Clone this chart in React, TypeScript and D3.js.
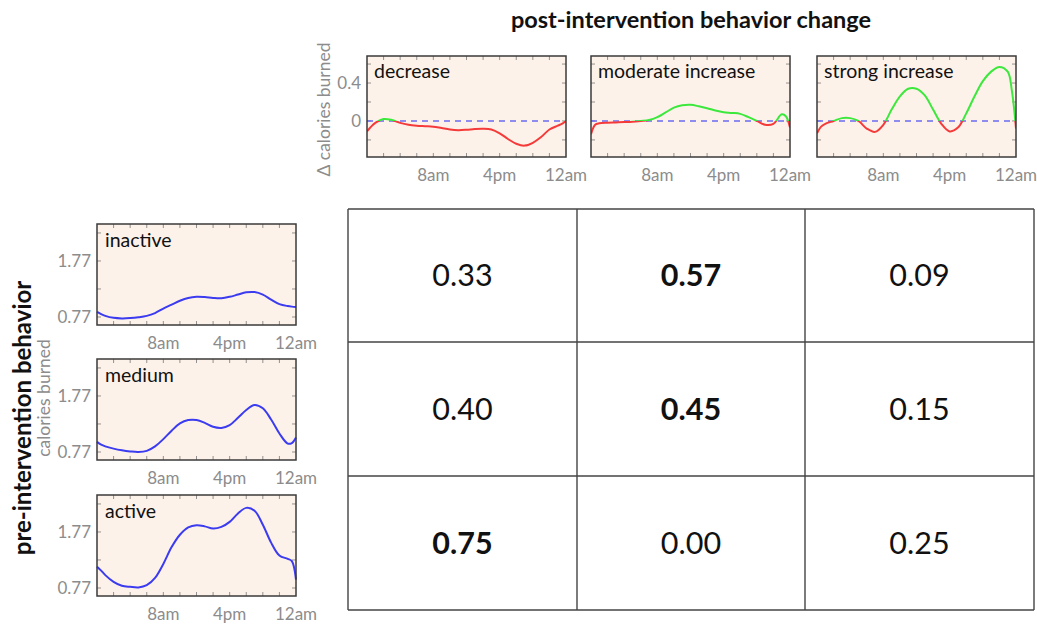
import React from "react";
import * as d3 from "d3";

// ---------- data ----------
const HOURS = [0, 0.5, 1, 2, 3, 4, 5, 6, 7, 8, 9, 10, 11, 12, 13, 14, 15, 16, 17, 18, 19, 20, 21, 22, 23, 23.5, 24];

const changeLabels = ["decrease", "moderate increase", "strong increase"];
const decreaseValues = [-0.11, -0.06, -0.02, 0.02, 0.01, -0.02, -0.04, -0.05, -0.055, -0.06, -0.075, -0.09, -0.097, -0.093, -0.085, -0.082, -0.09, -0.13, -0.19, -0.24, -0.26, -0.23, -0.17, -0.09, -0.05, -0.03, 0.0];
const moderateValues = [-0.14, -0.04, -0.025, -0.018, -0.015, -0.012, -0.008, 0.0, 0.01, 0.04, 0.09, 0.14, 0.165, 0.17, 0.155, 0.135, 0.11, 0.092, 0.085, 0.075, 0.04, 0.0, -0.04, -0.03, 0.07, 0.05, -0.07];
const strongValues = [-0.13, -0.06, -0.03, 0.0, 0.03, 0.03, 0.0, -0.08, -0.115, -0.04, 0.12, 0.26, 0.34, 0.34, 0.27, 0.12, -0.03, -0.11, -0.07, 0.08, 0.26, 0.42, 0.52, 0.57, 0.52, 0.32, -0.08];
const changeSeries = [decreaseValues, moderateValues, strongValues];

const behaviorLabels = ["inactive", "medium", "active"];
const inactiveValues = [0.86, 0.82, 0.79, 0.755, 0.745, 0.75, 0.765, 0.79, 0.84, 0.92, 0.99, 1.06, 1.11, 1.13, 1.125, 1.11, 1.105, 1.13, 1.17, 1.21, 1.215, 1.17, 1.08, 1.0, 0.965, 0.955, 0.95];
const mediumValues = [0.95, 0.9, 0.87, 0.83, 0.8, 0.78, 0.77, 0.79, 0.87, 1.0, 1.15, 1.28, 1.34, 1.34, 1.29, 1.22, 1.2, 1.25, 1.38, 1.52, 1.61, 1.55, 1.35, 1.1, 0.92, 0.93, 1.03];
const activeValues = [1.15, 1.08, 1.0, 0.88, 0.81, 0.79, 0.78, 0.82, 0.95, 1.2, 1.5, 1.72, 1.85, 1.89, 1.87, 1.83, 1.86, 1.95, 2.1, 2.2, 2.15, 1.9, 1.58, 1.35, 1.29, 1.25, 0.92];
const behaviorSeries = [inactiveValues, mediumValues, activeValues];

const xTickHours = [8, 16, 24];
const xTickLabels = ["8am", "4pm", "12am"];
const xMinorHours = [2, 4, 6, 8, 10, 12, 14, 16, 18, 20, 22];

const deltaTicks = [0, 0.4];
const deltaMinor = [-0.2, 0, 0.2, 0.4, 0.6];
const calTicks = [0.77, 1.77];
const calMinor = [0.77, 1.27, 1.77, 2.27];

// transition matrix: rows = pre behavior, cols = change
const tableValues = [
  [0.33, 0.57, 0.09],
  [0.40, 0.45, 0.15],
  [0.75, 0.0, 0.25],
];
const boldCells = [
  [false, true, false],
  [false, true, false],
  [true, false, false],
];

// ---------- layout ----------
const FONT = "Lato, 'Open Sans', sans-serif";
const GRAY = "#8c8c8c";
const TICK_FS = 17;
const PANEL_W = 199;
const PANEL_H = 101;
const BG = "#fdf2ea";
const BORDER = "#3a3a3a";

const topLefts = [367, 591, 817];
const topTop = 56;
const leftLeft = 97;
const leftTops = [224, 359, 495];

const tableX = [348, 577, 805, 1034];
const tableY = [209, 342, 476, 610];

const xScale = d3.scaleLinear().domain([0, 24]).range([0, PANEL_W]);
const deltaY = d3.scaleLinear().domain([-0.38, 0.685]).range([PANEL_H, 0]);
const calY = d3.scaleLinear().domain([0.627, 2.43]).range([PANEL_H, 0]);

function Frame({ yScale, yMinor }: { yScale: any; yMinor: number[] }) {
  const t = 4;
  return (
    <g>
      <rect x={0} y={0} width={PANEL_W} height={PANEL_H} fill={BG} />
      {xMinorHours.map((h) => (
        <g key={"x" + h} stroke="#777" strokeWidth={0.8}>
          <line x1={xScale(h)} x2={xScale(h)} y1={PANEL_H} y2={PANEL_H - t} />
          <line x1={xScale(h)} x2={xScale(h)} y1={0} y2={t} />
        </g>
      ))}
      {yMinor.map((v) => (
        <g key={"y" + v} stroke="#777" strokeWidth={0.8}>
          <line x1={0} x2={t} y1={yScale(v)} y2={yScale(v)} />
          <line x1={PANEL_W} x2={PANEL_W - t} y1={yScale(v)} y2={yScale(v)} />
        </g>
      ))}
    </g>
  );
}

function XLabels() {
  return (
    <g>
      {xTickHours.map((h, i) => (
        <text key={h} x={xScale(h)} y={PANEL_H + 24} textAnchor="middle" fontSize={TICK_FS} fill={GRAY} fontFamily={FONT}>
          {xTickLabels[i]}
        </text>
      ))}
    </g>
  );
}

function ChangePanel({ idx }: { idx: number }) {
  const values = changeSeries[idx];
  const pts: [number, number][] = HOURS.map((h, i) => [h, values[i]]);
  const line = d3
    .line<[number, number]>()
    .x((d) => xScale(d[0]))
    .y((d) => deltaY(d[1]))
    .curve(d3.curveCatmullRom.alpha(0.5));
  const path = line(pts) || "";
  const y0 = deltaY(0);
  const idA = `above${idx}`;
  const idB = `below${idx}`;
  return (
    <g transform={`translate(${topLefts[idx]},${topTop})`}>
      <defs>
        <clipPath id={idA}>
          <rect x={0} y={0} width={PANEL_W} height={y0} />
        </clipPath>
        <clipPath id={idB}>
          <rect x={0} y={y0} width={PANEL_W} height={PANEL_H - y0} />
        </clipPath>
      </defs>
      <Frame yScale={deltaY} yMinor={deltaMinor} />
      <line x1={0} x2={PANEL_W} y1={y0} y2={y0} stroke="#6b6bf2" strokeWidth={1.4} strokeDasharray="6,5" />
      <path d={path} fill="none" stroke="#3de83d" strokeWidth={2} clipPath={`url(#${idA})`} />
      <path d={path} fill="none" stroke="#f53a3a" strokeWidth={2} clipPath={`url(#${idB})`} />
      <rect x={0} y={0} width={PANEL_W} height={PANEL_H} fill="none" stroke={BORDER} strokeWidth={1.5} />
      <text x={7} y={22} fontSize={19.5} fill="#111" fontFamily={FONT}>
        {changeLabels[idx]}
      </text>
      {idx === 0 &&
        deltaTicks.map((v) => (
          <text key={v} x={-6} y={deltaY(v)} dy="0.35em" textAnchor="end" fontSize={TICK_FS} fill={GRAY} fontFamily={FONT}>
            {v === 0 ? "0" : String(v)}
          </text>
        ))}
      <XLabels />
    </g>
  );
}

function BehaviorPanel({ idx }: { idx: number }) {
  const values = behaviorSeries[idx];
  const pts: [number, number][] = HOURS.map((h, i) => [h, values[i]]);
  const line = d3
    .line<[number, number]>()
    .x((d) => xScale(d[0]))
    .y((d) => calY(d[1]))
    .curve(d3.curveCatmullRom.alpha(0.5));
  return (
    <g transform={`translate(${leftLeft},${leftTops[idx]})`}>
      <Frame yScale={calY} yMinor={calMinor} />
      <path d={line(pts) || ""} fill="none" stroke="#3b3bef" strokeWidth={2} />
      <rect x={0} y={0} width={PANEL_W} height={PANEL_H} fill="none" stroke={BORDER} strokeWidth={1.5} />
      <text x={8} y={23} fontSize={19.5} fill="#111" fontFamily={FONT}>
        {behaviorLabels[idx]}
      </text>
      {calTicks.map((v) => (
        <text key={v} x={-6} y={calY(v)} dy="0.35em" textAnchor="end" fontSize={TICK_FS} fill={GRAY} fontFamily={FONT}>
          {v.toFixed(2)}
        </text>
      ))}
      <XLabels />
    </g>
  );
}

export default function App() {
  return (
    <svg width={1037} height={626} style={{ position: "absolute", left: 0, top: 0, background: "#fff" }}>
      <rect width={1037} height={626} fill="#fff" />
      <text x={691} y={28} textAnchor="middle" fontSize={23.5} fontWeight="bold" fill="#111" fontFamily={FONT}>
        post-intervention behavior change
      </text>
      <text transform={`translate(330,${topTop + PANEL_H / 2 + 3}) rotate(-90)`} textAnchor="middle" fontSize={17.5} fill={GRAY} fontFamily={FONT}>
        Δ calories burned
      </text>
      <text transform={`translate(31,418) rotate(-90)`} textAnchor="middle" fontSize={24} fontWeight="bold" fill="#111" fontFamily={FONT}>
        pre-intervention behavior
      </text>
      <text transform={`translate(50,398) rotate(-90)`} textAnchor="middle" fontSize={17.5} fill={GRAY} fontFamily={FONT}>
        calories burned
      </text>
      {[0, 1, 2].map((i) => (
        <ChangePanel key={"c" + i} idx={i} />
      ))}
      {[0, 1, 2].map((i) => (
        <BehaviorPanel key={"b" + i} idx={i} />
      ))}
      <g>
        {tableValues.map((row, r) =>
          row.map((v, c) => (
            <text
              key={`${r}-${c}`}
              x={(tableX[c] + tableX[c + 1]) / 2}
              y={(tableY[r] + tableY[r + 1]) / 2}
              dy="0.36em"
              textAnchor="middle"
              fontSize={30.5}
              fontWeight={boldCells[r][c] ? "bold" : "normal"}
              fill="#111"
              fontFamily={FONT}
            >
              {v.toFixed(2)}
            </text>
          ))
        )}
        {tableX.map((x, i) => (
          <line key={"v" + i} x1={x} x2={x} y1={tableY[0]} y2={tableY[3]} stroke="#444" strokeWidth={1.4} />
        ))}
        {tableY.map((y, i) => (
          <line key={"h" + i} x1={tableX[0]} x2={tableX[3]} y1={y} y2={y} stroke="#444" strokeWidth={1.4} />
        ))}
      </g>
    </svg>
  );
}
